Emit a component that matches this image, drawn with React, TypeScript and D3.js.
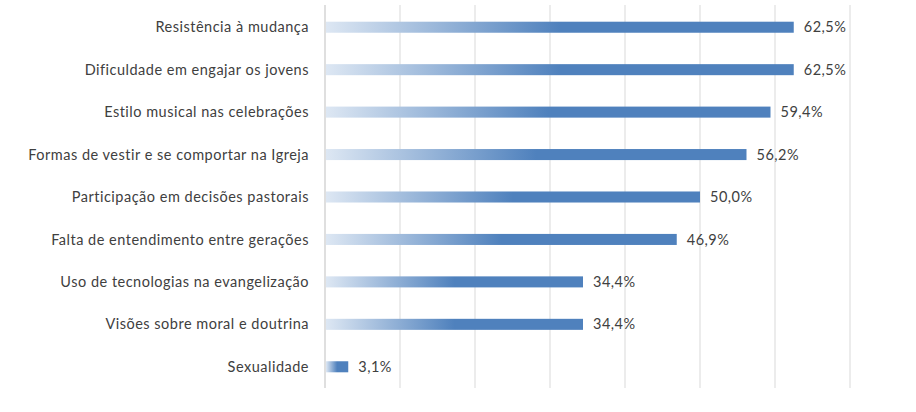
import React from "react";
import * as d3 from "d3";

const categories = ["Resistência à mudança","Dificuldade em engajar os jovens","Estilo musical nas celebrações","Formas de vestir e se comportar na Igreja","Participação em decisões pastorais","Falta de entendimento entre gerações","Uso de tecnologias na evangelização","Visões sobre moral e doutrina","Sexualidade"];
const values = [62.5,62.5,59.4,56.2,50.0,46.9,34.4,34.4,3.1];
const ticks = [0,10,20,30,40,50,60,70];

export default function App() {
  const W = 916, H = 412;
  const x = d3.scaleLinear().domain([0,70]).range([325,850]);
  const y = d3.scaleBand().domain(categories).range([6,388]).paddingInner(0.74).paddingOuter(0.37);
  const fmt = (v:number)=> v.toFixed(1).replace(".", ",") + "%";
  return (
    <svg width={W} height={H} style={{position:"absolute",left:0,top:0}} fontFamily="Lato, Calibri, sans-serif">
      <defs>
        <linearGradient id="g" x1="0" x2="1" y1="0" y2="0">
          <stop offset="0" stopColor="#dde7f3"/>
          <stop offset="0.5" stopColor="#4f81bd"/>
          <stop offset="1" stopColor="#4f81bd"/>
        </linearGradient>
      </defs>
      {ticks.map(t=>(<line key={t} x1={x(t)} x2={x(t)} y1={5} y2={388} stroke={t===0?"#bfbfbf":"#d9d9d9"} strokeWidth={1}/>))}
      {categories.map((c,i)=>{
        const yy = y(c)!; const bh = y.bandwidth();
        return <g key={c}>
          <rect x={x(0)+1} y={yy} width={x(values[i])-x(0)-1} height={bh} fill="url(#g)"/>
          <text x={x(values[i])+10} y={yy+bh/2} dy="0.35em" fontSize={14.5} letterSpacing={0.5} fill="#404040">{fmt(values[i])}</text>
          <text x={309} y={yy+bh/2} dy="0.35em" fontSize={14.5} letterSpacing={0.5} fill="#404040" textAnchor="end">{c}</text>
        </g>;
      })}
    </svg>
  );
}
